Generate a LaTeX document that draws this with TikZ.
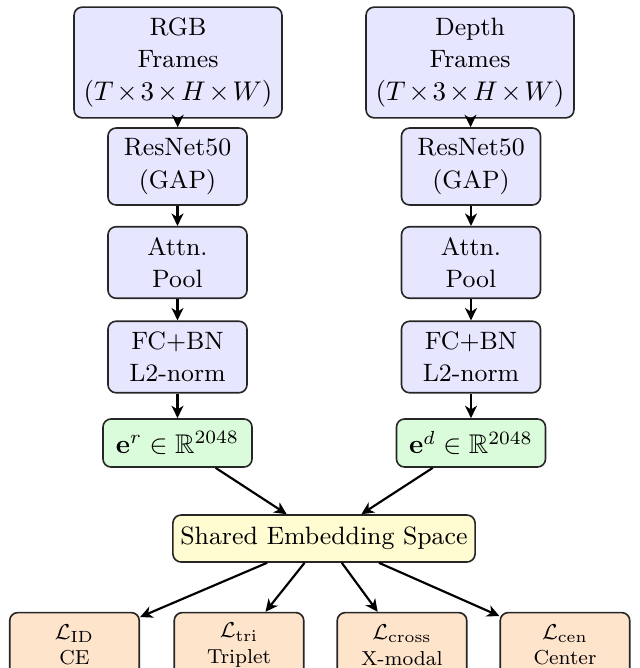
\documentclass[tikz,border=0pt]{standalone}
\usepackage{amsmath,amssymb}
\usetikzlibrary{arrows.meta}

\definecolor{inputfill}{RGB}{230,230,255}
\definecolor{embfill}{RGB}{218,252,218}
\definecolor{sharedfill}{RGB}{255,252,210}
\definecolor{lossfill}{RGB}{255,228,204}

\newcommand{\mathten}[1]{{\fontsize{10}{12}\selectfont #1}}
\newcommand{\frameshape}{\mathten{\medmuskip=2mu $(T\times3\times H\times W)$}}
\newcommand{\boxfont}{\fontsize{9.3}{12}\selectfont}
\newcommand{\lossfont}{\fontsize{7.5}{9.5}\selectfont}
\newcommand{\lossmath}[1]{{\fontsize{8}{9.5}\selectfont #1}}

\tikzset{
  block/.style={draw=black!85, line width=0.6pt, rounded corners=3pt,
    align=center, inner sep=2pt, font=\boxfont},
  inbox/.style={block, fill=inputfill},
  embbox/.style={block, fill=embfill},
  sharedbox/.style={block, fill=sharedfill},
  lossbox/.style={block, fill=lossfill, font=\lossfont},
  flow/.style={line width=0.8pt, -{Stealth[length=4.6pt,width=4.4pt,inset=1.4pt]}}
}

\begin{document}
\begin{tikzpicture}[x=0.37037pt, y=-0.37037pt]
  \useasboundingbox (0,0) rectangle (639,668);
  \clip (0,0) rectangle (639,668);

  % RGB branch
  \node[inbox, minimum width=77pt, minimum height=41pt] (rgb) at (178,62.5)
    {RGB\\Frames\\\frameshape};
  \node[inbox, minimum width=51.5pt, minimum height=28.5pt] (resr) at (177.5,166.5)
    {ResNet50\\(GAP)};
  \node[inbox, minimum width=51.5pt, minimum height=26.5pt] (attr) at (177.5,262.5)
    {Attn.\\Pool};
  \node[inbox, minimum width=51.5pt, minimum height=26.5pt] (fcr) at (177.5,357)
    {FC+BN\\L2-norm};
  \node[embbox, minimum width=55.2pt, minimum height=17.8pt] (er) at (177.5,443)
    {\mathten{$\mathbf{e}^{r}\in\mathbb{R}^{2048}$}};

  % Depth branch
  \node[inbox, minimum width=77pt, minimum height=41pt] (dep) at (470,62.5)
    {Depth\\Frames\\\frameshape};
  \node[inbox, minimum width=51.5pt, minimum height=28.5pt] (resd) at (471,166.5)
    {ResNet50\\(GAP)};
  \node[inbox, minimum width=51.5pt, minimum height=26.5pt] (attd) at (471,262.5)
    {Attn.\\Pool};
  \node[inbox, minimum width=51.5pt, minimum height=26.5pt] (fcd) at (471,357)
    {FC+BN\\L2-norm};
  \node[embbox, minimum width=55.2pt, minimum height=17.8pt] (ed) at (471,443)
    {\mathten{$\mathbf{e}^{d}\in\mathbb{R}^{2048}$}};

  % Shared space
  \node[sharedbox, minimum width=111.9pt, minimum height=17.4pt] (shared) at (324,538.5)
    {Shared Embedding Space};

  % Loss terms
  \node[lossbox, minimum width=48pt, minimum height=24pt] (lid) at (74.5,645)
    {\lossmath{$\mathcal{L}_{\mathrm{ID}}$}\\CE};
  \node[lossbox, minimum width=48pt, minimum height=24pt] (ltri) at (239,645)
    {\lossmath{$\mathcal{L}_{\mathrm{tri}}$}\\Triplet};
  \node[lossbox, minimum width=48pt, minimum height=24pt] (lcross) at (402,645)
    {\lossmath{$\mathcal{L}_{\mathrm{cross}}$}\\X-modal};
  \node[lossbox, minimum width=48pt, minimum height=24pt] (lcen) at (565,645)
    {\lossmath{$\mathcal{L}_{\mathrm{cen}}$}\\Center};

  % Connectors
  \draw[flow] (rgb) -- (resr);
  \draw[flow] (resr) -- (attr);
  \draw[flow] (attr) -- (fcr);
  \draw[flow] (fcr) -- (er);
  \draw[flow] (dep) -- (resd);
  \draw[flow] (resd) -- (attd);
  \draw[flow] (attd) -- (fcd);
  \draw[flow] (fcd) -- (ed);
  \draw[flow] (er) -- (shared);
  \draw[flow] (ed) -- (shared);
  \draw[flow] (shared) -- (lid);
  \draw[flow] (shared) -- (ltri);
  \draw[flow] (shared) -- (lcross);
  \draw[flow] (shared) -- (lcen);
\end{tikzpicture}
\end{document}
